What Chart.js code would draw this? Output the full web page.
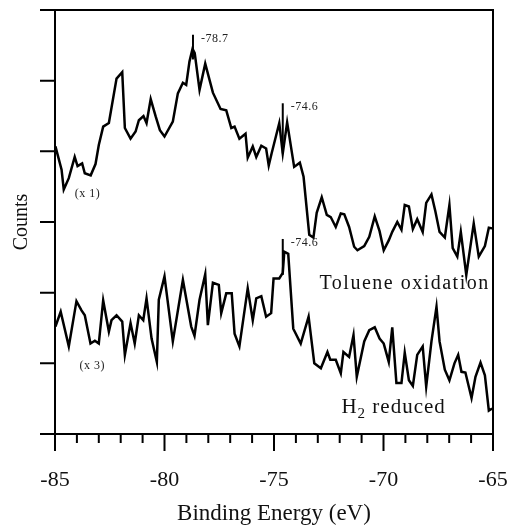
<!DOCTYPE html>
<html>
<head>
<meta charset="utf-8">
<script src="https://cdn.jsdelivr.net/npm/chart.js@4.4.0/dist/chart.umd.min.js"></script>
<style>
  html, body { margin: 0; padding: 0; background: #fff; }
  #wrap { width: 518px; height: 528px; }
</style>
</head>
<body>
<div id="wrap"><canvas id="xps" width="518" height="528"></canvas></div>
<script>
/* ===== DATA ===== */
// toluene oxidation spectrum (x 1)
const tolueneEnergy = [
  -84.98, -84.70, -84.60, -84.37, -84.10, -83.97, -83.76, -83.64, -83.37, -83.15,
  -83.00, -82.80, -82.54, -82.19, -81.93, -81.81, -81.55, -81.32, -81.17, -80.96,
  -80.82, -80.63, -80.40, -80.21, -80.00, -79.62, -79.39, -79.16, -79.01, -78.86,
  -78.72, -78.62, -78.40, -78.14, -77.79, -77.44, -77.18, -76.95, -76.80, -76.58,
  -76.30, -76.20, -75.97, -75.81, -75.58, -75.36, -75.24, -75.11, -74.76, -74.60,
  -74.40, -74.08, -73.82, -73.65, -73.39, -73.20, -73.05, -72.82, -72.59, -72.41,
  -72.18, -71.95, -71.79, -71.57, -71.34, -71.19, -70.88, -70.65, -70.40, -70.18,
  -69.99, -69.76, -69.60, -69.37, -69.18, -69.03, -68.84, -68.66, -68.46, -68.21,
  -68.05, -67.81, -67.63, -67.44, -67.20, -66.99, -66.84, -66.63, -66.47, -66.22,
  -65.88, -65.65, -65.37, -65.19, -65.04
];
const tolueneCounts = [
  4.07, 3.74, 3.46, 3.62, 3.92, 3.79, 3.83, 3.69, 3.66, 3.82,
  4.09, 4.35, 4.40, 5.03, 5.12, 4.33, 4.18, 4.28, 4.44, 4.50,
  4.40, 4.74, 4.49, 4.30, 4.21, 4.42, 4.82, 4.97, 4.94, 5.27,
  5.45, 5.39, 4.87, 5.24, 4.83, 4.60, 4.58, 4.33, 4.35, 4.18,
  4.25, 3.91, 4.07, 3.92, 4.08, 4.04, 3.80, 3.97, 4.40, 3.97,
  4.41, 3.78, 3.84, 3.64, 2.82, 2.78, 3.13, 3.35, 3.10, 3.07,
  2.93, 3.12, 3.11, 2.93, 2.65, 2.60, 2.66, 2.79, 3.08, 2.87,
  2.60, 2.74, 2.86, 3.00, 2.89, 3.24, 3.22, 2.90, 3.04, 2.86,
  3.27, 3.39, 3.15, 2.86, 2.78, 3.24, 2.63, 2.51, 2.86, 2.25,
  2.98, 2.51, 2.66, 2.92, 2.91
];

// H2 reduced spectrum (x 3)
const reducedEnergy = [
  -84.98, -84.74, -84.37, -84.02, -83.79, -83.64, -83.38, -83.18, -83.00, -82.80,
  -82.54, -82.42, -82.19, -81.93, -81.81, -81.55, -81.36, -81.17, -80.97, -80.82,
  -80.59, -80.35, -80.26, -80.00, -79.62, -79.16, -78.78, -78.63, -78.40, -78.14,
  -78.02, -77.79, -77.52, -77.41, -77.18, -76.93, -76.80, -76.58, -76.20, -75.97,
  -75.81, -75.58, -75.36, -75.13, -75.02, -74.76, -74.60, -74.53, -74.35, -74.12,
  -73.78, -73.42, -73.16, -72.86, -72.56, -72.43, -72.18, -71.95, -71.83, -71.57,
  -71.37, -71.22, -70.88, -70.65, -70.40, -70.18, -69.99, -69.76, -69.60, -69.41,
  -69.18, -69.03, -68.84, -68.66, -68.46, -68.21, -68.05, -67.81, -67.58, -67.44,
  -67.20, -66.99, -66.76, -66.59, -66.44, -66.26, -65.98, -65.80, -65.57, -65.37,
  -65.19, -65.04
];
const reducedCounts = [
  1.52, 1.73, 1.24, 1.88, 1.75, 1.68, 1.28, 1.32, 1.28, 1.89,
  1.45, 1.61, 1.68, 1.59, 1.12, 1.57, 1.28, 1.68, 1.61, 1.92,
  1.35, 1.02, 1.90, 2.23, 1.31, 2.18, 1.52, 1.39, 1.90, 2.26,
  1.54, 2.14, 2.11, 1.71, 1.99, 1.99, 1.42, 1.24, 2.06, 1.61,
  1.92, 1.95, 1.66, 1.71, 2.20, 2.20, 2.28, 2.58, 2.55, 1.49,
  1.28, 1.66, 1.00, 0.93, 1.16, 1.05, 1.05, 0.86, 1.16, 1.09,
  1.40, 0.81, 1.31, 1.47, 1.51, 1.35, 1.28, 1.02, 1.51, 0.72,
  0.72, 1.15, 0.76, 0.68, 1.12, 1.24, 0.67, 1.31, 1.80, 1.31,
  0.91, 0.76, 1.00, 1.12, 0.88, 0.87, 0.51, 0.81, 1.01, 0.83,
  0.33, 0.36
];

// peak markers: position and vertical extent of each marker line
const peakEnergy = [-78.7, -74.6, -74.6];
const peakLow = [5.30, 3.97, 2.25];
const peakHigh = [5.65, 4.68, 2.76];

const xTicks = [-85, -80, -75, -70, -65];
const yTicks = [0, 1, 2, 3, 4, 5, 6];

const SERIF = '"Liberation Serif", "Times New Roman", serif';

/* ===== PLUGINS ===== */
// box, axis ticks (major + minor on x, outward ticks on y)
const frame = {
  id: "frame",
  afterDraw(chart) {
    const { ctx, chartArea: a, scales: { x, y } } = chart;
    ctx.save();
    ctx.strokeStyle = "#000";
    ctx.lineWidth = 2;
    ctx.lineCap = "butt";
    ctx.beginPath();
    ctx.moveTo(a.left, a.top); ctx.lineTo(a.left, a.bottom);
    ctx.moveTo(a.right, a.top - 1); ctx.lineTo(a.right, a.bottom + 1);
    // y ticks poke out to the left, first and last run across as the box edges
    yTicks.forEach(v => {
      const py = y.getPixelForValue(v);
      ctx.moveTo(a.left - 15, py);
      ctx.lineTo(v === 0 || v === 6 ? a.right + 1 : a.left, py);
    });
    // x ticks down, long every 5 eV
    for (let e = x.min; e <= x.max; e++) {
      const px = x.getPixelForValue(e);
      const len = xTicks.includes(e) ? 17 : 9;
      ctx.moveTo(px, a.bottom);
      ctx.lineTo(px, a.bottom + len);
    }
    ctx.stroke();
    ctx.restore();
  }
};

// peak values and sample notes
const notes = {
  id: "notes",
  afterDraw(chart) {
    const { ctx, scales: { x, y } } = chart;
    ctx.save();
    ctx.fillStyle = "#222";
    ctx.textBaseline = "middle";
    ctx.textAlign = "left";

    ctx.font = "12px " + SERIF;
    ctx.letterSpacing = "0.5px";
    peakEnergy.forEach((e, i) => {
      ctx.fillText(e.toFixed(1), x.getPixelForValue(e) + 8, y.getPixelForValue(peakHigh[i]) + 4);
    });

    ctx.fillText("(x 1)", x.getPixelForValue(-84.1), y.getPixelForValue(3.4));
    ctx.fillText("(x 3)", x.getPixelForValue(-83.88), y.getPixelForValue(0.96));

    ctx.fillStyle = "#111";
    ctx.font = "20px " + SERIF;
    ctx.letterSpacing = "1.5px";
    ctx.fillText("Toluene oxidation", x.getPixelForValue(-72.92), y.getPixelForValue(2.12));

    // H2 reduced, with a lowered subscript
    ctx.font = "21px " + SERIF;
    ctx.letterSpacing = "1px";
    let px = x.getPixelForValue(-71.92);
    const py = y.getPixelForValue(0.38);
    ctx.fillText("H", px, py);
    px += ctx.measureText("H").width;
    ctx.font = "15px " + SERIF;
    ctx.fillText("2", px, py + 7);
    px += ctx.measureText("2").width;
    ctx.font = "21px " + SERIF;
    ctx.fillText(" reduced", px, py);
    ctx.restore();
  }
};

/* ===== CHART ===== */
const toPoints = (xs, ys) => xs.map((e, i) => ({ x: e, y: ys[i] }));

const lineStyle = {
  borderColor: "#000",
  borderWidth: 2.5,
  pointRadius: 0,
  tension: 0,
  fill: false,
  borderJoinStyle: "miter"
};

const datasets = [
  { label: "Toluene oxidation", data: toPoints(tolueneEnergy, tolueneCounts), ...lineStyle },
  { label: "H2 reduced", data: toPoints(reducedEnergy, reducedCounts), ...lineStyle }
];
peakEnergy.forEach((e, i) => {
  datasets.push({
    label: "peak " + e,
    data: [{ x: e, y: peakLow[i] }, { x: e, y: peakHigh[i] }],
    borderColor: "#000",
    borderWidth: 2,
    pointRadius: 0
  });
});

new Chart(document.getElementById("xps"), {
  type: "line",
  data: { datasets },
  options: {
    responsive: false,
    animation: false,
    layout: { padding: { top: 10, right: 25, left: 0, bottom: 0 } },
    plugins: { legend: { display: false }, tooltip: { enabled: false } },
    scales: {
      x: {
        type: "linear",
        min: -85,
        max: -65,
        afterFit: s => { s.height = 94; },
        afterBuildTicks: s => { s.ticks = xTicks.map(v => ({ value: v })); },
        ticks: {
          color: "#111",
          font: { family: SERIF, size: 22 },
          padding: 0,
          maxRotation: 0,
          autoSkip: false
        },
        // tick marks themselves are drawn by the frame plugin; the length only spaces the labels
        grid: { drawOnChartArea: false, drawTicks: true, tickLength: 33, color: "rgba(0,0,0,0)" },
        border: { display: false },
        title: {
          display: true,
          text: "Binding Energy (eV)",
          color: "#111",
          font: { family: SERIF, size: 23 },
          padding: { top: 0, bottom: 0 }
        }
      },
      y: {
        type: "linear",
        min: 0,
        max: 6,
        afterFit: s => { s.width = 55; },
        afterBuildTicks: s => { s.ticks = yTicks.map(v => ({ value: v })); },
        ticks: { display: false },
        grid: { drawOnChartArea: false, drawTicks: false, color: "rgba(0,0,0,0)" },
        border: { display: false },
        title: {
          display: true,
          text: "Counts",
          color: "#111",
          font: { family: SERIF, size: 20 },
          padding: { top: 10, bottom: 0 }
        }
      }
    }
  },
  plugins: [frame, notes]
});
</script>
</body>
</html>
